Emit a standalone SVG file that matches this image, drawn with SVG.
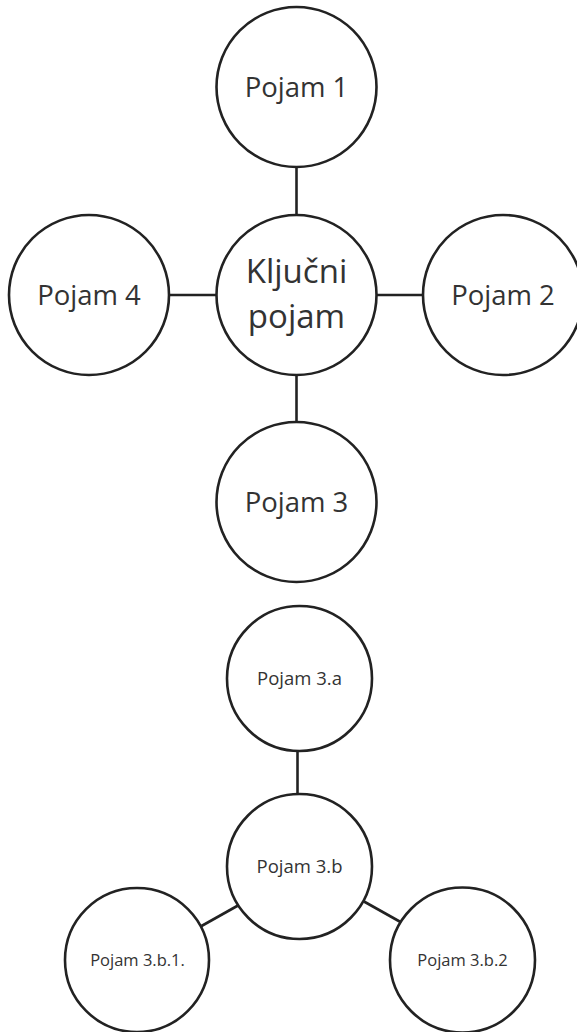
<svg xmlns="http://www.w3.org/2000/svg" width="577" height="1032" viewBox="0 0 577 1032">
<style>
.n{fill:#fff;stroke:#222;stroke-width:2.6}
.c line{stroke:#222;stroke-width:2.6}
text{font-family:"Open Sans","Noto Sans",sans-serif;fill:#333;text-anchor:middle}
.big{font-size:27.5px}
.key{font-size:33px}
.mid{font-size:18.5px}
.sm{font-size:16.5px}
</style>
<rect width="577" height="1032" fill="#fff"/>
<g class="c" id="connectors">
<line x1="296.5" y1="167" x2="296.5" y2="215"/>
<line x1="296.5" y1="375" x2="296.5" y2="422"/>
<line x1="169" y1="295" x2="216" y2="295"/>
<line x1="377" y1="295" x2="423" y2="295"/>
<line x1="297.5" y1="751" x2="297.5" y2="794"/>
<line x1="201.5" y1="926" x2="238" y2="905.5"/>
<line x1="364" y1="901.5" x2="400.5" y2="922"/>
</g>
<g id="pojam1"><circle class="n" cx="296.5" cy="87" r="80"/><text class="big" x="296.5" y="97">Pojam 1</text></g>
<g id="kljucni"><circle class="n" cx="296.5" cy="295" r="80"/><text class="key" x="296.5" y="283">Ključni</text><text class="key" x="296.5" y="328">pojam</text></g>
<g id="pojam4"><circle class="n" cx="89" cy="295" r="80"/><text class="big" x="89" y="305">Pojam 4</text></g>
<g id="pojam2"><circle class="n" cx="503" cy="295" r="80"/><text class="big" x="503" y="305">Pojam 2</text></g>
<g id="pojam3"><circle class="n" cx="296.5" cy="502" r="80"/><text class="big" x="296.5" y="512">Pojam 3</text></g>
<g id="pojam3a"><circle class="n" cx="299.5" cy="678.5" r="72.5"/><text class="mid" x="299.5" y="685">Pojam 3.a</text></g>
<g id="pojam3b"><circle class="n" cx="299.5" cy="866.5" r="72.5"/><text class="mid" x="299.5" y="873">Pojam 3.b</text></g>
<g id="pojam3b1"><circle class="n" cx="137" cy="960" r="72"/><text class="sm" x="137.5" y="966">Pojam 3.b.1.</text></g>
<g id="pojam3b2"><circle class="n" cx="462.5" cy="960" r="72.5"/><text class="sm" x="462.5" y="966">Pojam 3.b.2</text></g>
</svg>
